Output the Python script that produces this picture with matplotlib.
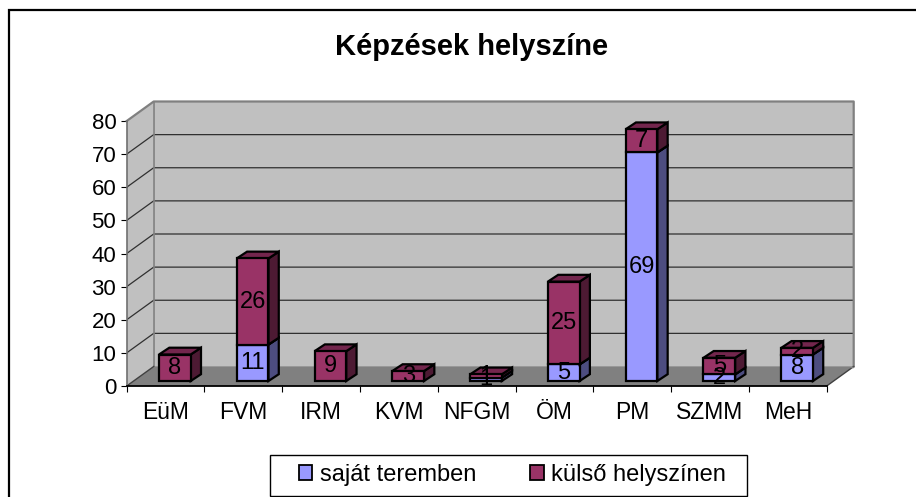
import matplotlib
matplotlib.use("Agg")
import matplotlib.pyplot as plt
from matplotlib.patches import Polygon, Patch, Rectangle

categories = ["EüM", "FVM", "IRM", "KVM", "NFGM", "ÖM", "PM", "SZMM", "MeH"]
sajat = [0, 11, 0, 0, 1, 5, 69, 2, 8]
kulso = [8, 26, 9, 3, 1, 25, 7, 5, 2]
title = "Képzések helyszíne"
series_names = ["saját teremben", "külső helyszínen"]
y_ticks = list(range(0, 90, 10))

plt.rcParams["font.family"] = ["Liberation Sans", "DejaVu Sans"]
W, H = 916, 497
fig = plt.figure(figsize=(W / 100, H / 100), dpi=100, facecolor="white")

# pixel geometry of the plot
PX_L, PX_R, PX_BOT, PX_TOP = 126.7, 826.7, 386.0, 121.0
DEPTH_PX_X, DEPTH_PX_Y = 27.0, 19.5
ux = (PX_R - PX_L) / len(categories)
uy = (PX_BOT - PX_TOP) / y_ticks[-1]
dx, dy = DEPTH_PX_X / ux, DEPTH_PX_Y / uy
nx, ny = len(categories), y_ticks[-1]

ax = fig.add_axes([PX_L / W, (H - PX_BOT) / H, (PX_R + DEPTH_PX_X - PX_L) / W, (PX_BOT - PX_TOP + DEPTH_PX_Y) / H])
ax.set_xlim(0, nx + dx)
ax.set_ylim(0, ny + dy)
ax.patch.set_visible(False)

WALL, FLOOR, WALL_EDGE, GRID = "#c0c0c0", "#808080", "#808080", "#303030"
ax.add_patch(Polygon([(dx, dy), (nx + dx, dy), (nx + dx, ny + dy), (dx, ny + dy)], fc=WALL, ec="none", zorder=1))
ax.add_patch(Polygon([(0, 0), (dx, dy), (dx, ny + dy), (0, ny)], fc=WALL, ec="none", zorder=1))
ax.add_patch(Polygon([(0, 0), (nx, 0), (nx + dx, dy), (dx, dy)], fc=FLOOR, ec="none", zorder=1))
for v in y_ticks[1:-1]:
    ax.plot([0, dx, nx + dx], [v, v + dy, v + dy], color=GRID, lw=0.9, zorder=1.5, solid_joinstyle="miter")
ax.plot([0, dx, nx + dx, nx + dx], [ny, ny + dy, ny + dy, dy], color=WALL_EDGE, lw=1.6, zorder=1.6, clip_on=False)
ax.plot([nx + dx, nx], [dy, 0], color="#404040", lw=1.0, zorder=1.6, clip_on=False)
ax.plot([dx, dx], [dy, ny + dy], color=WALL_EDGE, lw=1.2, zorder=1.6)
ax.plot([0, dx], [0, dy], color="#404040", lw=1.0, zorder=1.6)
ax.plot([dx, nx + dx], [dy, dy], color=WALL_EDGE, lw=1.0, zorder=1.6)

# bar geometry
bx0 = 32.3 / ux
bw = 31.7 / ux
bdx = 10.3 / ux
bdy = 6.8 / uy
base = 5.0 / uy
COLORS = [("#9999ff", "#4d4d80", "#7373bf"), ("#993366", "#4d1a33", "#73264d")]

z = 2.0
labels = []
for i in range(nx):
    bottom = base
    for vals, (front, side, top) in zip((sajat, kulso), COLORS):
        v = vals[i]
        if v == 0:
            continue
        x0, x1 = i + bx0, i + bx0 + bw
        y0, y1 = bottom, bottom + v
        kw = dict(ec="black", lw=1.6, joinstyle="miter", zorder=z)
        ax.add_patch(Polygon([(x1, y0), (x1 + bdx, y0 + bdy), (x1 + bdx, y1 + bdy), (x1, y1)], fc=side, **kw))
        ax.add_patch(Polygon([(x0, y1), (x1, y1), (x1 + bdx, y1 + bdy), (x0 + bdx, y1 + bdy)], fc=top, **kw))
        ax.add_patch(Polygon([(x0, y0), (x1, y0), (x1, y1), (x0, y1)], fc=front, **kw))
        z += 0.01
        labels.append(((x0 + x1) / 2, (y0 + y1) / 2, v))
        bottom = y1
for x, y, v in labels:
    ax.annotate(str(v), (x, y), xytext=(0, 1.8), textcoords="offset points", ha="center",
                va="center_baseline", fontsize=17, color="#000000", zorder=5)

for s in ("top", "right"):
    ax.spines[s].set_visible(False)
ax.spines["left"].set_bounds(0, ny)
ax.spines["bottom"].set_bounds(0, nx)
ax.spines["left"].set_linewidth(1.2)
ax.spines["left"].set_color("#707070")
ax.spines["left"].set_zorder(1.8)
ax.spines["bottom"].set_linewidth(1.3)
ax.spines["bottom"].set_zorder(1.8)
ax.set_yticks(y_ticks)
ax.tick_params(axis="y", length=4, width=0.8, pad=3.5, labelsize=16)
ax.set_xticks(range(nx + 1))
ax.set_xticklabels([])
ax.set_xticks([i + 0.5 for i in range(nx)], minor=True)
ax.set_xticklabels(categories, minor=True, fontsize=16.5)
ax.tick_params(axis="x", which="major", length=4, width=0.8)
ax.tick_params(axis="x", which="minor", length=0, pad=10.5)

fig.text(472 / W, (H - 55) / H, title, ha="center", va="baseline", fontsize=21, fontweight="bold")

# outer chart frame: only top and left edges fall inside the picture
fig.add_artist(Rectangle((9 / W, -10 / H), 1000 / W, (H - 10 + 10) / H, transform=fig.transFigure,
                         fc="none", ec="black", lw=1.6, zorder=0.5))

# legend box
fig.add_artist(Rectangle((269.5 / W, (H - 495.5) / H), 477.5 / W, 41 / H, transform=fig.transFigure,
                         fc="white", ec="black", lw=1.0, zorder=3))
handles = [Patch(fc=COLORS[k][0], ec="black", lw=1.3) for k in range(2)]
leg = fig.legend(handles, series_names, loc="center", bbox_to_anchor=(512.5 / W, (H - 475) / H),
                 ncol=2, frameon=False, fontsize=17, handlelength=0.56, handleheight=0.56,
                 handletextpad=0.31, columnspacing=2.3, borderpad=0, borderaxespad=0)
leg.set_zorder(4)

fig.savefig("out.png", dpi=100)
